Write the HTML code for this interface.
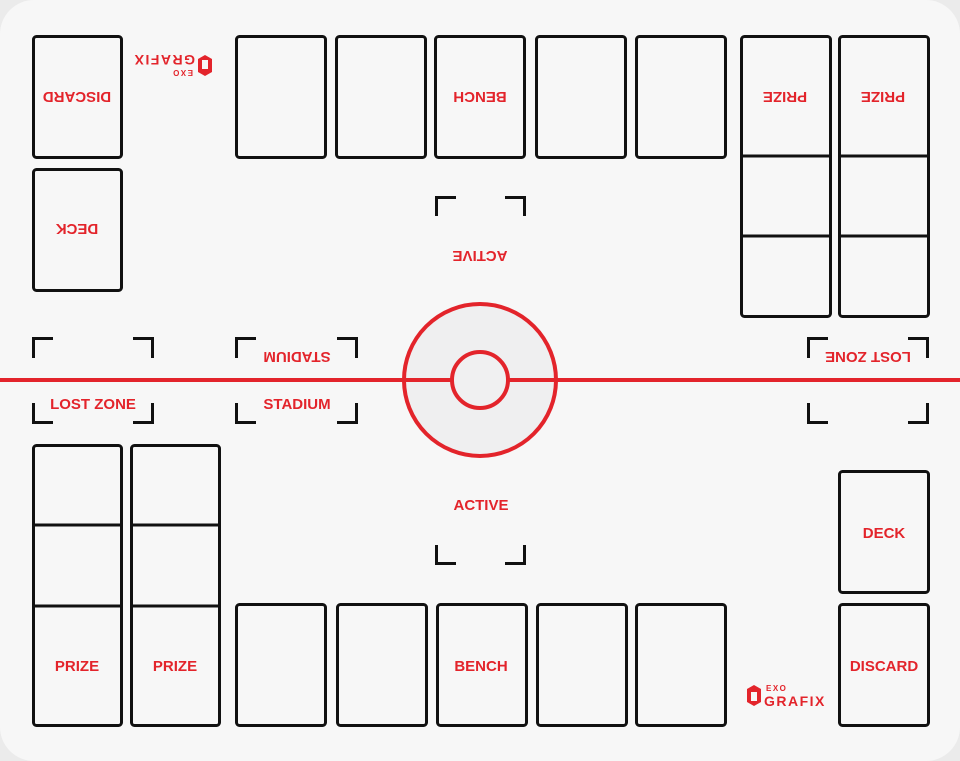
<!DOCTYPE html>
<html><head><meta charset="utf-8"><style>
html,body{margin:0;padding:0;background:#ebebeb;}
svg{display:block}
text{font-family:"Liberation Sans",Arial,sans-serif;font-weight:bold;fill:#e3242b;font-size:15px;text-anchor:middle}
.l{text-anchor:start}
</style></head><body>
<svg width="960" height="761" viewBox="0 0 960 761" xmlns="http://www.w3.org/2000/svg">
<rect x="0" y="0" width="960" height="761" fill="#ebebeb"/>
<rect x="0" y="0" width="960" height="761" rx="34" fill="#f7f7f7"/>
<g fill="none" stroke="#111" stroke-width="3">
<rect x="33.5" y="36.5" width="88" height="121" rx="3"/>
<rect x="33.5" y="169.5" width="88" height="121" rx="3"/>
<rect x="236.5" y="36.5" width="89" height="121" rx="3"/>
<rect x="336.5" y="36.5" width="89" height="121" rx="3"/>
<rect x="435.5" y="36.5" width="89" height="121" rx="3"/>
<rect x="536.5" y="36.5" width="89" height="121" rx="3"/>
<rect x="636.5" y="36.5" width="89" height="121" rx="3"/>
<rect x="741.5" y="36.5" width="89" height="280" rx="3"/>
<rect x="839.5" y="36.5" width="89" height="280" rx="3"/>
<path d="M741 156H830M741 236H830M839 156H928M839 236H928"/>
<rect x="33.5" y="445.5" width="88" height="280" rx="3"/>
<rect x="131.5" y="445.5" width="88" height="280" rx="3"/>
<path d="M33 525H121M33 606H121M131 525H219M131 606H219"/>
<rect x="236.5" y="604.5" width="89" height="121" rx="3"/>
<rect x="337.5" y="604.5" width="89" height="121" rx="3"/>
<rect x="437.5" y="604.5" width="89" height="121" rx="3"/>
<rect x="537.5" y="604.5" width="89" height="121" rx="3"/>
<rect x="636.5" y="604.5" width="89" height="121" rx="3"/>
<rect x="839.5" y="471.5" width="89" height="121" rx="3"/>
<rect x="839.5" y="604.5" width="89" height="121" rx="3"/>
<path d="M33.5 358V338.5H53M133 338.5H152.5V358M33.5 403V422.5H53M133 422.5H152.5V403"/>
<path d="M236.5 358V338.5H256M337 338.5H356.5V358M236.5 403V422.5H256M337 422.5H356.5V403"/>
<path d="M808.5 358V338.5H828M908 338.5H927.5V358M808.5 403V422.5H828M908 422.5H927.5V403"/>
<path d="M436.5 216V197.5H456M505 197.5H524.5V216"/>
<path d="M436.5 545V563.5H456M505 563.5H524.5V545"/>
</g>
<g stroke="#e3242b" stroke-width="4">
<line x1="0" y1="380" x2="452" y2="380"/>
<line x1="508" y1="380" x2="960" y2="380"/>
<circle cx="480" cy="380" r="76" fill="#efeff0"/>
<line x1="404" y1="380" x2="452" y2="380"/>
<line x1="508" y1="380" x2="556" y2="380"/>
<circle cx="480" cy="380" r="28" fill="#f0f0f1"/>
</g>
<text x="77" y="671">PRIZE</text>
<text x="175" y="671">PRIZE</text>
<text x="481" y="671">BENCH</text>
<text x="884" y="671">DISCARD</text>
<text x="884" y="538">DECK</text>
<text x="481" y="510">ACTIVE</text>
<text x="93" y="409">LOST ZONE</text>
<text x="297" y="409">STADIUM</text>
<text transform="rotate(180 77 97)" x="77" y="102">DISCARD</text>
<text transform="rotate(180 77 229)" x="77" y="234">DECK</text>
<text transform="rotate(180 480 97)" x="480" y="102">BENCH</text>
<text transform="rotate(180 785 97)" x="785" y="102">PRIZE</text>
<text transform="rotate(180 883 97)" x="883" y="102">PRIZE</text>
<text transform="rotate(180 480 256)" x="480" y="261">ACTIVE</text>
<text transform="rotate(180 297 357)" x="297" y="362">STADIUM</text>
<text transform="rotate(180 868 357)" x="868" y="362">LOST ZONE</text>
<g transform="translate(746,683)">
<path d="M1 6L8 2L15 6V19L8 23L1 19Z" fill="#e3242b"/>
<path d="M5 9H11V18H5Z" fill="#f7f7f7"/>
<text class="l" x="20" y="8" style="font-size:8px;letter-spacing:1.5px">EXO</text>
<text class="l" x="18" y="23" style="font-size:14px;letter-spacing:1.5px">GRAFIX</text>
</g>
<g transform="rotate(180 180 66) translate(147,54)">
<path d="M1 6L8 2L15 6V19L8 23L1 19Z" fill="#e3242b"/>
<path d="M5 9H11V18H5Z" fill="#f7f7f7"/>
<text class="l" x="20" y="8" style="font-size:8px;letter-spacing:1.5px">EXO</text>
<text class="l" x="18" y="23" style="font-size:14px;letter-spacing:1.5px">GRAFIX</text>
</g>
</svg>
</body></html>
